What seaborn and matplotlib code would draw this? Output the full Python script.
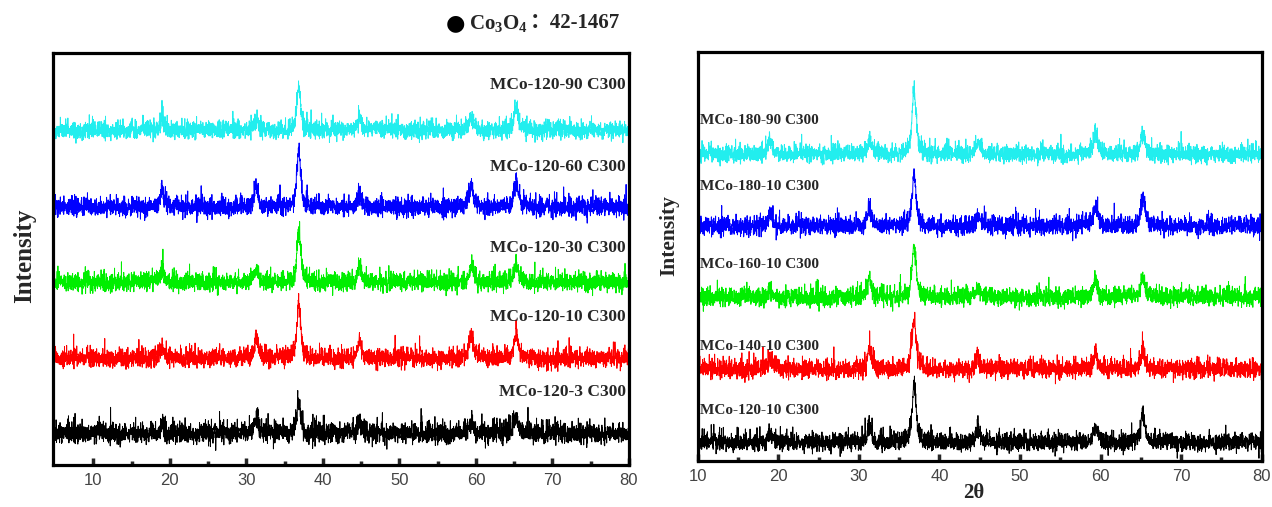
import numpy as np
import pandas as pd
import matplotlib
matplotlib.use("Agg")
import matplotlib.pyplot as plt
import seaborn as sns

# ---- data -------------------------------------------------------------
# Co3O4 reflections (2-theta, degrees) and their widths (FWHM, degrees)
peak_pos = [19.0, 31.3, 36.85, 44.8, 59.4, 65.25]
peak_fwhm = [0.6, 0.6, 0.6, 0.65, 0.65, 0.7]

# left panel: heating time series at 120 (bottom to top)
left_labels = ["MCo-120-3 C300", "MCo-120-10 C300", "MCo-120-30 C300",
               "MCo-120-60 C300", "MCo-120-90 C300"]
left_heights = [
    [10, 16, 32, 11, 12, 17],
    [9, 19, 58, 17, 22, 24],
    [12, 13, 52, 13, 17, 17],
    [16, 21, 58, 13, 22, 24],
    [12, 12, 44, 12, 14, 22],
]
left_noise = [4.4, 3.9, 3.9, 3.9, 3.7]

# right panel: temperature series (bottom to top)
right_labels = ["MCo-120-10 C300", "MCo-140-10 C300", "MCo-160-10 C300",
                "MCo-180-10 C300", "MCo-180-90 C300"]
right_heights = [
    [10, 16, 58, 14, 16, 25],
    [11, 20, 48, 11, 16, 16],
    [7, 20, 50, 11, 16, 20],
    [12, 16, 50, 9, 22, 25],
    [14, 16, 66, 13, 20, 20],
]
right_noise = [3.8, 4.0, 3.8, 3.8, 3.6]

colors = ["black", "#ff0000", "#00ee00", "#0000ff", "#22eeee"]

# ---- layout -------------------------------------------------------------
left_offsets = [32, 107, 183, 258, 335]
left_label_y = [73, 148, 217, 298, 380]
right_offsets = [19, 92, 164, 235, 307]
right_label_y = [50, 115, 197, 274, 340]

sns.set_theme(style="white")
plt.rcParams["font.family"] = ["Liberation Serif", "Noto Sans CJK SC"]
plt.rcParams["mathtext.fontset"] = "custom"
plt.rcParams["mathtext.rm"] = "Liberation Serif:bold"
plt.rcParams["mathtext.bf"] = "Liberation Serif:bold"
plt.rcParams["mathtext.it"] = "Liberation Serif:bold:italic"

W, H = 1272, 507
fig = plt.figure(figsize=(W / 100, H / 100), dpi=100)
fig.patch.set_facecolor("white")


def axes_px(x0, y0, x1, y1):
    return fig.add_axes([x0 / W, (H - y1) / H, (x1 - x0) / W, (y1 - y0) / H])


axL = axes_px(52.7, 52.7, 629, 465)
axR = axes_px(697.7, 51.7, 1261.7, 461)

rng = np.random.default_rng(7)


def pattern(x, heights, noise):
    y = np.zeros_like(x)
    for p, w, h in zip(peak_pos, peak_fwhm, heights):
        g = w / 2
        y += h * (0.6 * g**2 / ((x - p) ** 2 + g**2)
                  + 0.4 * np.exp(-4 * np.log(2) * (x - p) ** 2 / w**2))
    # counting noise on the background
    spikes = rng.exponential(0.7 * noise, x.size)
    y += rng.normal(0, noise, x.size) + spikes - spikes.mean()
    return y


def draw_panel(ax, xmin, heights, noise, offsets, labels, label_y, label_x, ha, fsize):
    x = np.arange(xmin, 80.001, 0.02)
    for i in range(len(labels)):
        y = pattern(x, heights[i], noise[i]) + offsets[i]
        df = pd.DataFrame({"two_theta": x, "intensity": y})
        sns.lineplot(data=df, x="two_theta", y="intensity", color=colors[i],
                     linewidth=0.7, estimator=None, ax=ax)
        ax.text(label_x, label_y[i], labels[i], ha=ha, va="center",
                fontsize=fsize, fontweight="bold", family="Liberation Serif")


draw_panel(axL, 5.0, left_heights, left_noise, left_offsets, left_labels,
           left_label_y, 79.6, "right", 12.5)
draw_panel(axR, 10.0, right_heights, right_noise, right_offsets, right_labels,
           right_label_y, 10.3, "left", 11)

axL.set_xlim(4.7, 80)
axL.set_ylim(0, 412.3)
axR.set_xlim(10, 80)
axR.set_ylim(0, 409.3)

for ax in (axL, axR):
    ax.set_yticks([])
    ax.set_xticks(np.arange(10, 81, 10))
    ax.set_xticks(np.arange(15, 80, 10), minor=True)
    ax.tick_params(axis="x", which="major", direction="in", length=5, width=2.5,
                   bottom=True, top=False, pad=6, labelsize=12,
                   labelcolor="#444444")
    ax.tick_params(axis="x", which="minor", direction="in", length=3, width=2.5,
                   bottom=True, top=False)
    for lab in ax.get_xticklabels():
        lab.set_family("Liberation Sans")
    for s in ax.spines.values():
        s.set_linewidth(2.3)
        s.set_color("black")
    ax.set_xlabel("")

axL.set_ylabel("Intensity", fontsize=18, fontweight="bold")
axL.yaxis.set_label_coords(-0.029, 0.507)
axR.set_ylabel("Intensity", fontsize=15.5, fontweight="bold")
axR.yaxis.set_label_coords(-0.033, 0.552)
axR.set_xlabel("2θ", fontsize=15, fontweight="bold")
axR.xaxis.set_label_coords(0.49, -0.078)
axR.xaxis.label.set_va("center")

# phase key above the left panel
fig.text(455 / W, 1 - 23 / H, "●", fontsize=16, ha="center", va="center",
         color="black", family="DejaVu Sans")
t1 = fig.text(469 / W, 1 - 23 / H, r"Co$_\mathregular{3}$O$_\mathregular{4}$",
              fontsize=15, fontweight="bold", ha="left", va="center")
fig.canvas.draw()
bb = t1.get_window_extent()
fig.text(bb.x1 / W + 0.001, 1 - 23 / H, "：42-1467", fontsize=15,
         fontweight="bold", ha="left", va="center",
         family=["Liberation Serif", "Noto Sans CJK SC"])

fig.savefig("out.png", dpi=100, facecolor="white")
